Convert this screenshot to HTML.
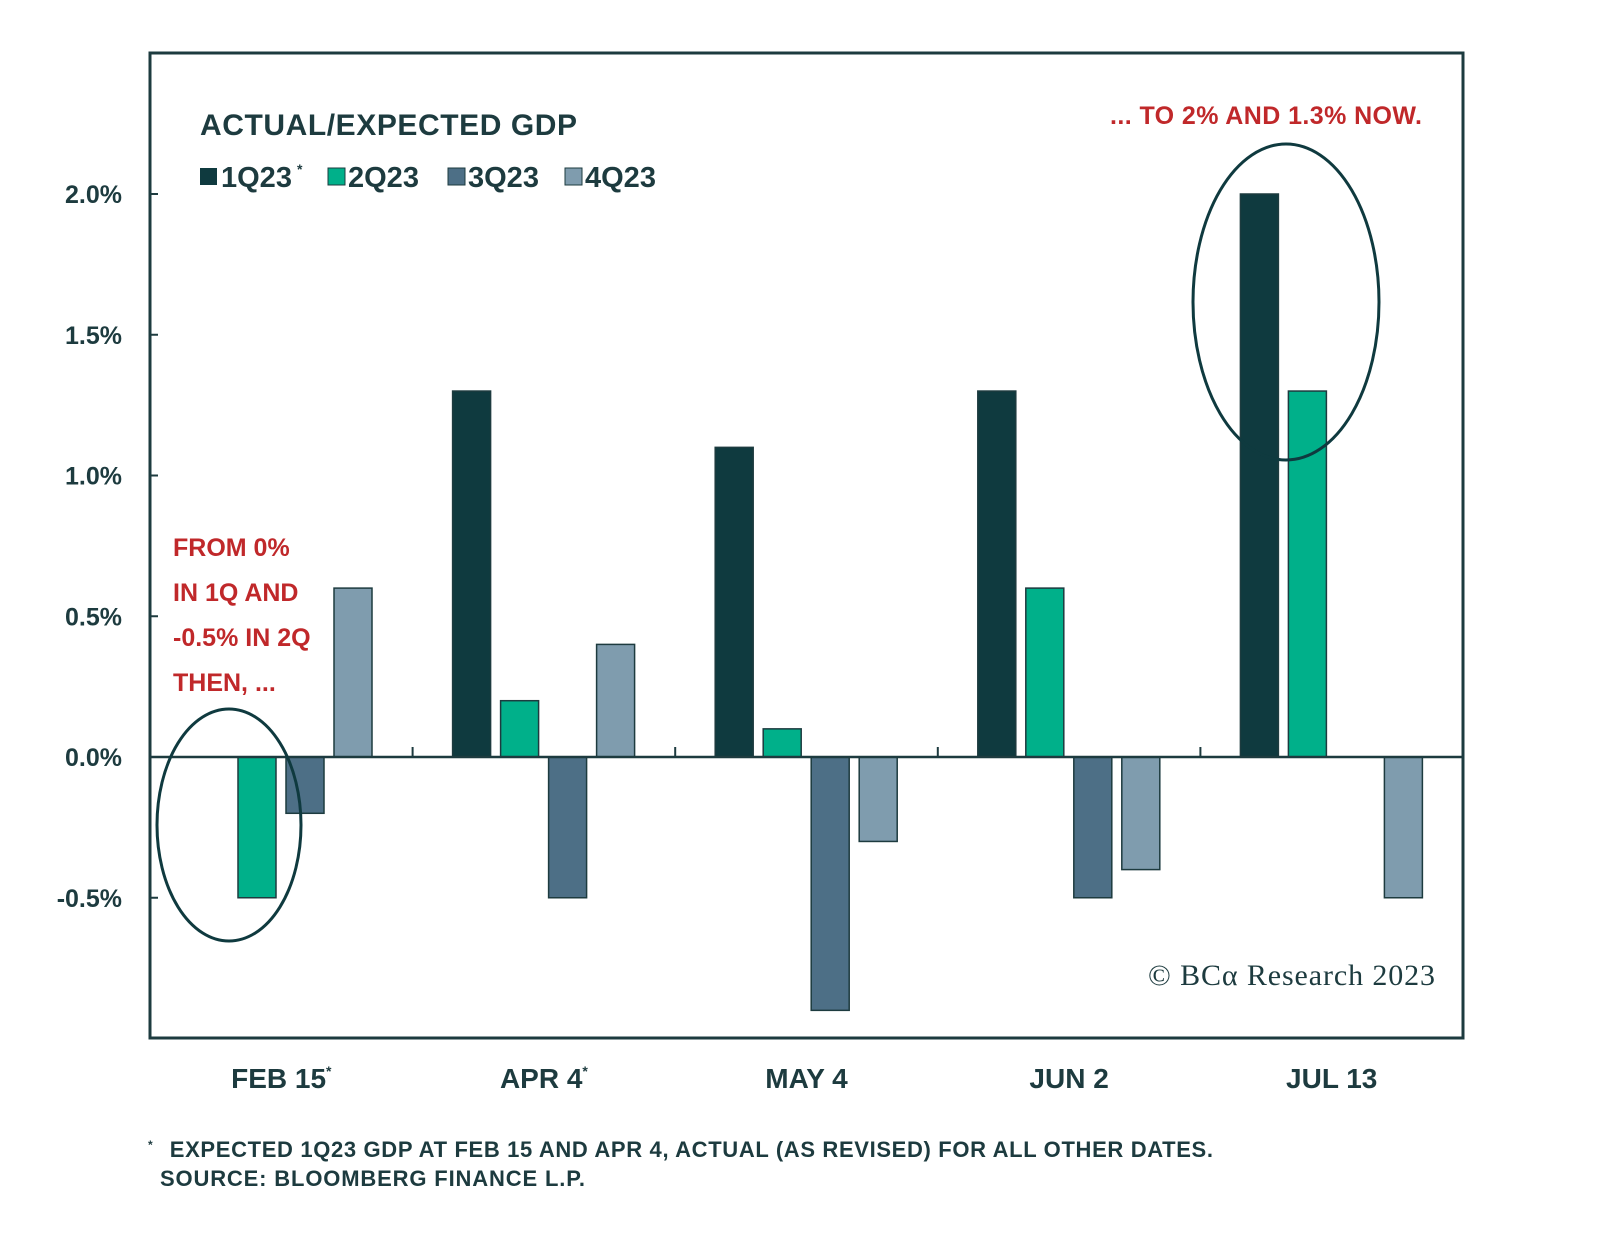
<!DOCTYPE html>
<html><head><meta charset="utf-8"><style>
html,body{margin:0;padding:0;background:#fff;}
svg{display:block;font-family:"Liberation Sans",sans-serif;}
</style></head><body>
<svg id="chart" width="1600" height="1237" viewBox="0 0 1600 1237" xmlns="http://www.w3.org/2000/svg">
<rect x="150" y="53" width="1313" height="985" fill="none" stroke="#1d3b3f" stroke-width="3"/>
<g id="yaxis"></g>
<g id="bars"></g>
<line x1="150" y1="757" x2="1463" y2="757" stroke="#1d3b3f" stroke-width="2.5"/>
<g id="xaxis"></g>
<text x="200" y="135" font-size="30" font-weight="bold" fill="#1d3b3f" textLength="377">ACTUAL/EXPECTED GDP</text>
<g font-size="29" font-weight="bold" fill="#1d3b3f">
<g><rect x="200" y="168" width="17" height="17" fill="#0f3a3f"/><text x="221" y="187">1Q23</text><text x="297" y="174" font-size="14">*</text></g>
<g><rect x="328" y="168" width="17" height="17" fill="#00b08a" stroke="#1d3b3f"/><text x="348" y="187">2Q23</text></g>
<g><rect x="448" y="168" width="17" height="17" fill="#4d6f86" stroke="#1d3b3f"/><text x="468" y="187">3Q23</text></g>
<g><rect x="565" y="168" width="17" height="17" fill="#7f9cae" stroke="#1d3b3f"/><text x="585" y="187">4Q23</text></g>
</g>
<g font-size="25" font-weight="bold" fill="#c0282a">
<text x="173" y="556">FROM 0%</text><text x="173" y="601">IN 1Q AND</text><text x="173" y="646">-0.5% IN 2Q</text><text x="173" y="691">THEN, ...</text>
</g>
<text x="1110" y="124" font-size="25" font-weight="bold" fill="#c0282a" textLength="312">... TO 2% AND 1.3% NOW.</text>
<ellipse cx="229" cy="825" rx="72" ry="116" fill="none" stroke="#0f3a3f" stroke-width="3"/>
<ellipse cx="1286" cy="302" rx="93" ry="158" fill="none" stroke="#0f3a3f" stroke-width="3"/>
<text x="1148" y="985" font-family="Liberation Serif,serif" font-size="30" fill="#1d3b3f" textLength="287">© BCα Research 2023</text>
<g font-size="22" font-weight="bold" fill="#1d3b3f">
<text x="148" y="1157"><tspan font-size="12" dy="-8">*</tspan><tspan dy="8" x="163" textLength="1050"> EXPECTED 1Q23 GDP AT FEB 15 AND APR 4, ACTUAL (AS REVISED) FOR ALL OTHER DATES.</tspan></text>
<text x="160" y="1186" textLength="425">SOURCE: BLOOMBERG FINANCE L.P.</text>
</g>
</svg>
<script>
const categories = ["FEB 15", "APR 4", "MAY 4", "JUN 2", "JUL 13"];
const starred = [true, true, false, false, false];
const q1 = [0, 1.3, 1.1, 1.3, 2.0];
const q2 = [-0.5, 0.2, 0.1, 0.6, 1.3];
const q3 = [-0.2, -0.5, -0.9, -0.5, 0];
const q4 = [0.6, 0.4, -0.3, -0.4, -0.5];
const yTicks = [-0.5, 0, 0.5, 1.0, 1.5, 2.0];
const yTickLabels = ["-0.5%", "0.0%", "0.5%", "1.0%", "1.5%", "2.0%"];

const NS = "http://www.w3.org/2000/svg";
const x0 = 150, x1 = 1463;
const groupW = (x1 - x0) / categories.length;
function y(v){ return 757 - v * 281.5; }
function gx(i){ return x0 + i * groupW; }
const series = [q1, q2, q3, q4];
const colors = ["#0f3a3f", "#00b08a", "#4d6f86", "#7f9cae"];
const snames = ["1q23", "2q23", "3q23", "4q23"];
const bars = document.getElementById("bars");
series.forEach((s, k) => {
  s.forEach((v, i) => {
    if (v === 0) return;
    const r = document.createElementNS(NS, "rect");
    const bx = gx(i) + 40 + k * 48;
    r.setAttribute("x", bx);
    r.setAttribute("width", 38);
    r.setAttribute("y", Math.min(y(v), y(0)));
    r.setAttribute("height", Math.abs(y(v) - y(0)));
    r.setAttribute("fill", colors[k]);
    r.setAttribute("stroke", "#1d3b3f");
    r.setAttribute("stroke-width", "1.5");
    
    
    bars.appendChild(r);
  });
});
const ya = document.getElementById("yaxis");
yTicks.forEach((t, i) => {
  const tx = document.createElementNS(NS, "text");
  tx.setAttribute("x", 122); tx.setAttribute("y", y(t) + 9);
  tx.setAttribute("text-anchor", "end");
  tx.setAttribute("font-size", "25"); tx.setAttribute("font-weight", "bold");
  tx.setAttribute("fill", "#1d3b3f");
  tx.textContent = yTickLabels[i];
  
  
  ya.appendChild(tx);
  const ln = document.createElementNS(NS, "line");
  ln.setAttribute("x1", 150); ln.setAttribute("x2", 158);
  ln.setAttribute("y1", y(t)); ln.setAttribute("y2", y(t));
  ln.setAttribute("stroke", "#1d3b3f"); ln.setAttribute("stroke-width", "2");
  
  
  ya.appendChild(ln);
});
const xa = document.getElementById("xaxis");
categories.forEach((c, i) => {
  if (i > 0) {
    const ln = document.createElementNS(NS, "line");
    ln.setAttribute("x1", gx(i)); ln.setAttribute("x2", gx(i));
    ln.setAttribute("y1", 747); ln.setAttribute("y2", 757);
    ln.setAttribute("stroke", "#1d3b3f"); ln.setAttribute("stroke-width", "2");
    
    
    xa.appendChild(ln);
  }
  const tx = document.createElementNS(NS, "text");
  tx.setAttribute("x", gx(i) + groupW / 2);
  tx.setAttribute("y", 1088);
  tx.setAttribute("text-anchor", "middle");
  tx.setAttribute("font-size", "28"); tx.setAttribute("font-weight", "bold");
  tx.setAttribute("fill", "#1d3b3f");
  tx.innerHTML = c + (starred[i] ? '<tspan font-size="14" dy="-12">*</tspan>' : '');
  
  
  xa.appendChild(tx);
});
</script>
</body></html>
